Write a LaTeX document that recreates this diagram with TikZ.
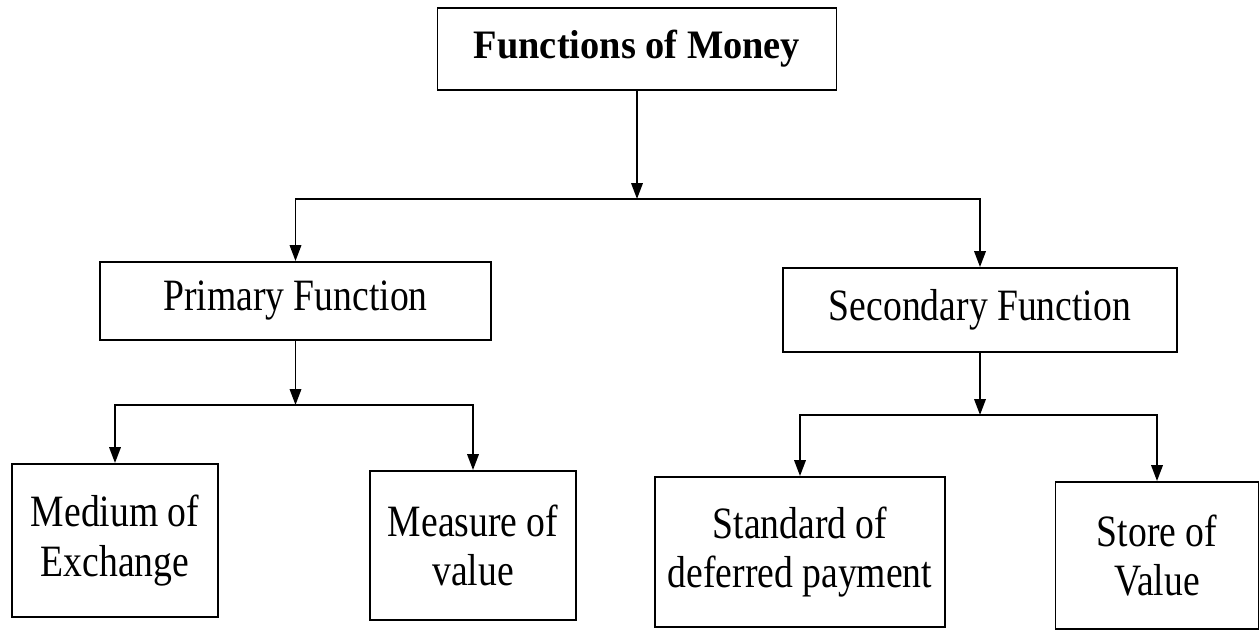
\documentclass[tikz,border=0pt]{standalone}
\usepackage{fontspec}
\setmainfont[FakeStretch=0.84]{Liberation Serif}
\newfontfamily\titlefont[FakeStretch=0.95]{Liberation Serif}
\usetikzlibrary{arrows.meta,calc}
\begin{document}
\begin{tikzpicture}[x=0.02cm,y=-0.02cm,
  box/.style={draw=black,line width=1.1pt,inner sep=0pt,align=center,
    font=\fontsize{25.5}{28}\selectfont},
  arr/.style={line width=1.1pt,-{Triangle[length=9pt,width=6.5pt]}}]
\useasboundingbox (0,0) rectangle (1260,631);
\node[box,minimum width=399*0.02cm,minimum height=82*0.02cm,
  font=\titlefont\bfseries\fontsize{23}{26}\selectfont] (top) at (637,49) {Functions of Money};
\node[box,minimum width=391*0.02cm,minimum height=78*0.02cm] (prim) at (295.5,301) {Primary Function};
\node[box,minimum width=394*0.02cm,minimum height=84*0.02cm] (sec) at (980,310) {Secondary Function};
\node[box,minimum width=206*0.02cm,minimum height=153*0.02cm] (med) at (115,540.5) {Medium of\\Exchange};
\node[box,minimum width=206*0.02cm,minimum height=149*0.02cm] (mea) at (473,545.5) {Measure of\\value};
\node[box,minimum width=290*0.02cm,minimum height=150*0.02cm] (std) at (800,552) {Standard of\\deferred payment};
\node[box,minimum width=203*0.02cm,minimum height=147*0.02cm] (sto) at (1157,555.5) {Store of\\Value};
\path (top.south) ++(0,108) coordinate (j1);
\path (prim.south) ++(0,64) coordinate (j2);
\path (sec.south) ++(0,62) coordinate (j3);
\draw[arr] (top) -- (j1);
\draw[arr] (j1) -| (prim);
\draw[arr] (j1) -| (sec);
\draw[arr] (prim) -- (j2);
\draw[arr] (j2) -| (med);
\draw[arr] (j2) -| (mea);
\draw[arr] (sec) -- (j3);
\draw[arr] (j3) -| (std);
\draw[arr] (j3) -| (sto);
\end{tikzpicture}
\end{document}
